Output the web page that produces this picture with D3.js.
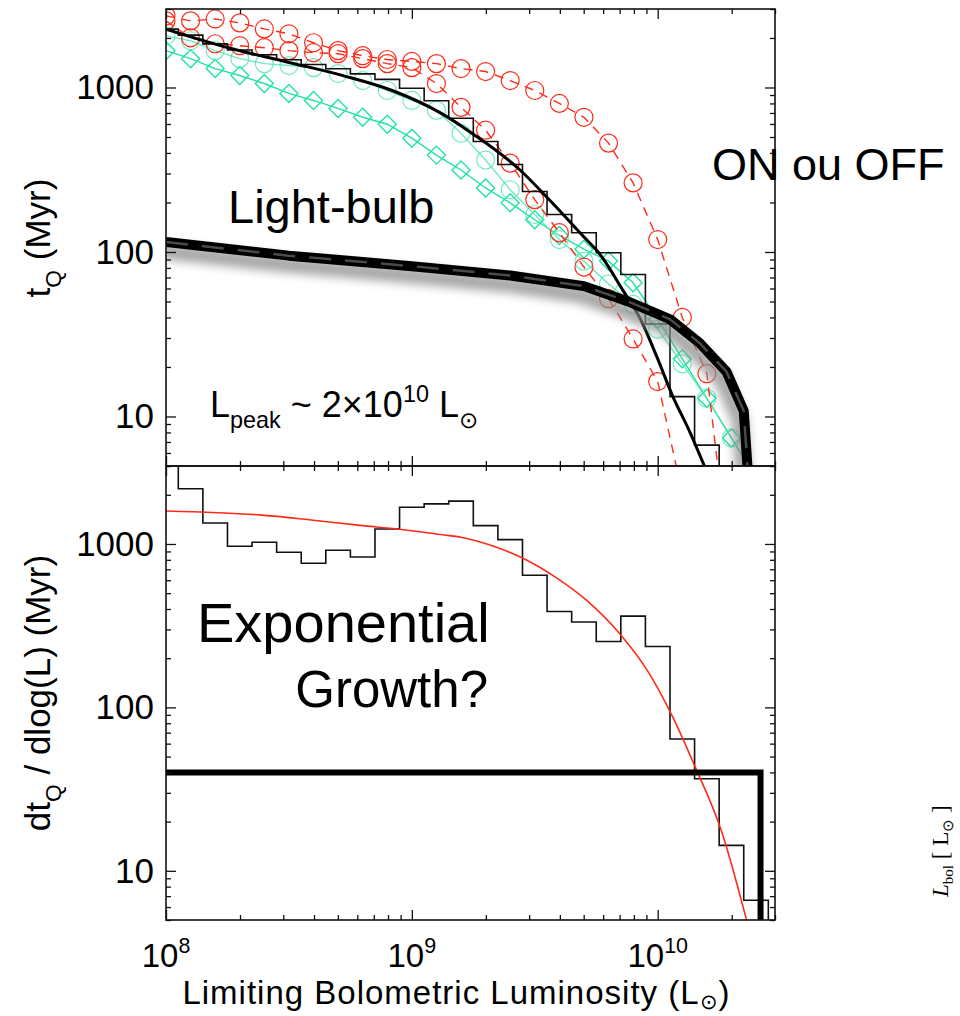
<!DOCTYPE html>
<html>
<head>
<meta charset="utf-8">
<script src="https://cdn.jsdelivr.net/npm/d3@7"></script>
<style>
  body { margin: 0; background: #fff; }
  text { font-family: "Liberation Sans", Arial, Helvetica, sans-serif; fill: #000; }
</style>
</head>
<body>
<script>
// log10 of luminosity at the bin centres / marker positions
var logGrid = [8.0, 8.1, 8.2, 8.3, 8.4, 8.5, 8.6, 8.7, 8.8, 8.9, 9.0, 9.1, 9.2,
               9.3, 9.4, 9.5, 9.6, 9.7, 9.8, 9.9, 10.0, 10.1, 10.2, 10.3, 10.4, 10.5];

// top panel: t_Q (Myr)
var histTop = [2265, 2080, 1840, 1690, 1580, 1475, 1380, 1300, 1210, 1120, 990, 830, 650,
               470, 340, 233, 169, 131, 99, 73, 36.5, 13.2, 6.7, 2.1];
var redA = [2725, 2540, 2610, 2470, 2270, 2120, 1870, 1675, 1560, 1480, 1440, 1397, 1303,
            1250, 1102, 959, 800, 659, 459, 263, 119, 40, 18.2, 1.0];
var redB = [2540, 2005, 1844, 1795, 1745, 1675, 1627, 1605, 1497, 1397, 1321, 1057, 757,
            550, 347, 208, 131, 81, 52, 29.6, 16.3, 3.4];
var greenCirc = [2061, 1923, 1675, 1497, 1397, 1359, 1321, 1215, 1102, 959, 834, 726, 527,
                 362, 239, 169, 119, 88, 64, 48, 34, 20.9, 12.9, 7.4, 4.2];
var greenDiam = [1675, 1497, 1303, 1182, 1057, 920, 834, 746, 659, 598, 492, 388, 315,
                 245, 199, 157, 126, 104, 88, 65, 39, 22.4, 12.9, 7.4, 4.2];
var fitLog = [8.0, 8.25, 8.5, 8.72, 8.92, 9.12, 9.25, 9.44, 9.56, 9.71, 9.76, 9.86, 9.93, 10.0, 10.06, 10.13, 10.19];
var fitT   = [2265, 1750, 1420, 1181, 959, 696, 520, 315, 207, 119, 99, 58, 39, 22.4, 13.4, 8.1, 5];
var bulbLog = [8.0, 8.5, 9.0, 9.4, 9.7, 9.88, 10.05, 10.17, 10.28, 10.35, 10.365];
var bulbT   = [115, 95, 82, 72, 62, 50, 39, 28, 18.7, 10.8, 5];

// bottom panel: dt_Q / dlog(L) (Myr)
var histBot = [3500, 2175, 1345, 968, 1024, 889, 762, 915, 832, 1236, 1678, 1760, 1828,
               1295, 1063, 643, 386, 333, 253, 362, 236, 64, 36.6, 14.3, 6.6, 0];
var expLog = [8.0, 8.38, 8.59, 8.79, 8.95, 9.13, 9.2, 9.33, 9.45, 9.59, 9.71, 9.85, 9.96, 10.06, 10.15, 10.26, 10.36, 10.4];
var expT   = [1593, 1506, 1403, 1300, 1230, 1135, 1100, 972, 820, 618, 453, 277, 166, 88, 44, 17.4, 5.1, 3];
var bulbLevel = 40, bulbLmax = 2.62e10;

var W = 960, H = 1016,
    left = 166, right = 775, top1 = 9, mid = 466, bot = 920,
    red = '#ff2a18', green = '#22e3a0', greenLight = '#4ee6b0';

var svg = d3.select('body').append('svg').attr('width', W).attr('height', H);
var defs = svg.append('defs');
defs.append('clipPath').attr('id', 'clipTop').append('rect')
  .attr('x', left).attr('y', top1).attr('width', right - left).attr('height', mid - top1);
defs.append('clipPath').attr('id', 'clipBot').append('rect')
  .attr('x', left).attr('y', mid).attr('width', right - left).attr('height', bot - mid);
defs.append('filter').attr('id', 'shadow').attr('x', '-10%').attr('y', '-50%')
  .attr('width', '120%').attr('height', '200%')
  .append('feGaussianBlur').attr('stdDeviation', 5);

var x = d3.scaleLog().domain([1e8, 3e10]).range([left, right]);
var yTop = d3.scaleLog().domain([5, 3000]).range([mid, top1]);
var yBot = d3.scaleLog().domain([5, 3000]).range([bot, mid]);

function pow(v) { return Math.pow(10, v); }

function stepPoints(vals) {
  var pts = vals.map(function(v, i) { return [pow(logGrid[i] - 0.05), v]; });
  pts.push([pow(logGrid[vals.length - 1] + 0.05), vals[vals.length - 1]]);
  return pts;
}

function drawSeries(g, y, vals, color, dash, marker, op) {
  var pts = vals.map(function(v, i) { return [pow(logGrid[i]), v]; });
  var line = d3.line().x(function(d) { return x(d[0]); }).y(function(d) { return y(Math.max(d[1], 0.5)); });
  g.append('path').attr('d', line(pts)).attr('fill', 'none')
    .attr('stroke', color).attr('stroke-width', 1.4).attr('stroke-dasharray', dash)
    .attr('opacity', op);
  var m = g.append('g').attr('opacity', op);
  pts.forEach(function(d) {
    var cx = x(d[0]), cy = y(Math.max(d[1], 0.5));
    if (marker === 'circle') {
      m.append('circle').attr('cx', cx).attr('cy', cy).attr('r', 9)
        .attr('fill', 'none').attr('stroke', color).attr('stroke-width', 1.2);
    } else {
      m.append('path').attr('d', 'M' + cx + ',' + (cy - 9) + 'L' + (cx + 9) + ',' + cy + 'L' + cx + ',' + (cy + 9) + 'L' + (cx - 9) + ',' + cy + 'Z')
        .attr('fill', 'none').attr('stroke', color).attr('stroke-width', 1.4);
    }
  });
}

// ---------- top panel ----------
var gT = svg.append('g').attr('clip-path', 'url(#clipTop)');
drawSeries(gT, yTop, greenDiam, green, null, 'diamond', 1);
drawSeries(gT, yTop, greenCirc, greenLight, null, 'circle', 0.8);
drawSeries(gT, yTop, redB, red, '9,7', 'circle', 1);
drawSeries(gT, yTop, redA, red, '9,7', 'circle', 1);

var stepLineT = d3.line().curve(d3.curveStepAfter)
  .x(function(d) { return x(d[0]); }).y(function(d) { return yTop(Math.max(d[1], 0.5)); });
gT.append('path').attr('d', stepLineT(stepPoints(histTop)))
  .attr('fill', 'none').attr('stroke', '#111').attr('stroke-width', 1.6);

var fitLine = d3.line().curve(d3.curveMonotoneX)
  .x(function(d, i) { return x(pow(fitLog[i])); }).y(function(d) { return yTop(d); });
gT.append('path').attr('d', fitLine(fitT))
  .attr('fill', 'none').attr('stroke', '#000').attr('stroke-width', 3);

var bulbLine = d3.line()
  .x(function(d, i) { return x(pow(bulbLog[i])); }).y(function(d) { return yTop(d); });
gT.append('path').attr('d', bulbLine(bulbT)).attr('transform', 'translate(-4,9)')
  .attr('fill', 'none').attr('stroke', '#8a8a8a').attr('stroke-width', 16)
  .attr('opacity', 0.75).attr('filter', 'url(#shadow)');
gT.append('path').attr('d', bulbLine(bulbT))
  .attr('fill', 'none').attr('stroke', '#000').attr('stroke-width', 10)
  .attr('stroke-linejoin', 'round').attr('stroke-linecap', 'round');
gT.append('path').attr('d', bulbLine(bulbT))
  .attr('fill', 'none').attr('stroke', '#4a4a4a').attr('stroke-width', 2.5)
  .attr('stroke-dasharray', '22,14');

// ---------- bottom panel ----------
var gB = svg.append('g').attr('clip-path', 'url(#clipBot)');
var stepLineB = d3.line().curve(d3.curveStepAfter)
  .x(function(d) { return x(d[0]); }).y(function(d) { return yBot(Math.max(d[1], 0.5)); });
gB.append('path').attr('d', stepLineB(stepPoints(histBot)))
  .attr('fill', 'none').attr('stroke', '#111').attr('stroke-width', 1.6);
var expLine = d3.line().curve(d3.curveMonotoneX)
  .x(function(d, i) { return x(pow(expLog[i])); }).y(function(d) { return yBot(d); });
gB.append('path').attr('d', expLine(expT))
  .attr('fill', 'none').attr('stroke', red).attr('stroke-width', 1.6);
gB.append('path').attr('d', stepLineB([[1e8, bulbLevel], [bulbLmax, bulbLevel], [bulbLmax, 0.5]]))
  .attr('fill', 'none').attr('stroke', '#000').attr('stroke-width', 6);

// ---------- axes ----------
var xMajor = [1e8, 1e9, 1e10], yMajor = [10, 100, 1000];
var xMinor = x.ticks().filter(function(d) { return xMajor.indexOf(d) < 0; });
var yMinor = yTop.ticks().filter(function(d) { return yMajor.indexOf(d) < 0; });

function axes(y, y0, y1, labels) {
  var specs = [
    [d3.axisLeft(y), 'translate(' + left + ',0)', yMajor, yMinor, labels],
    [d3.axisRight(y), 'translate(' + right + ',0)', yMajor, yMinor, false],
    [d3.axisTop(x), 'translate(0,' + y1 + ')', xMajor, xMinor, false],
    [d3.axisBottom(x), 'translate(0,' + y0 + ')', xMajor, xMinor, false]
  ];
  specs.forEach(function(s) {
    var gm = svg.append('g').attr('transform', s[1])
      .call(s[0].tickValues(s[2]).tickSize(-10).tickPadding(12)
        .tickFormat(s[4] ? d3.format('d') : ''));
    var gn = svg.append('g').attr('transform', s[1])
      .call(s[0].tickValues(s[3]).tickSize(-5).tickFormat(''));
    [gm, gn].forEach(function(g) {
      g.select('.domain').remove();
      g.selectAll('line').attr('stroke', '#111').attr('stroke-width', 1.3);
    });
    gm.selectAll('text').attr('font-size', 35)
      .attr('font-family', '"Liberation Sans", Arial, sans-serif').attr('fill', '#000');
  });
  svg.append('rect').attr('x', left).attr('y', y1).attr('width', right - left)
    .attr('height', y0 - y1).attr('fill', 'none').attr('stroke', '#111').attr('stroke-width', 1.6);
}
axes(yTop, mid, top1, true);
axes(yBot, bot, mid, true);

// rich text helper for sub/superscripts
function rich(sel, parts, size, subOff) {
  var off = 0;
  parts.forEach(function(p) {
    var target = p[1] === 'sub' ? size * (subOff || 0.3) : p[1] === 'sup' ? -size * 0.42 : 0;
    sel.append('tspan').attr('dy', target - off)
      .attr('font-size', p[1] ? size * 0.65 : size).text(p[0]);
    off = target;
  });
  return sel;
}

// x tick labels
xMajor.forEach(function(v, i) {
  var t = svg.append('text').attr('x', x(v)).attr('y', 967).attr('text-anchor', 'middle');
  rich(t, [['10'], [['8', '9', '10'][i], 'sup']], 33);
});

rich(svg.append('text').attr('x', (left + right) / 2 - 14).attr('y', 1004)
    .attr('text-anchor', 'middle').attr('letter-spacing', 1),
  [['Limiting Bolometric Luminosity (L'], ['\u2299', 'sub'], [')']], 33, 0.16);

rich(svg.append('text').attr('transform', 'translate(50,238) rotate(-90)').attr('text-anchor', 'middle'),
  [['t'], ['Q', 'sub'], [' (Myr)']], 35);
rich(svg.append('text').attr('transform', 'translate(50,693) rotate(-90)').attr('text-anchor', 'middle'),
  [['dt'], ['Q', 'sub'], [' / dlog(L) (Myr)']], 35);

// annotations
svg.append('text').attr('x', 228).attr('y', 223).attr('font-size', 47).text('Light-bulb');
svg.append('text').attr('x', 712).attr('y', 180).attr('font-size', 45).text('ON ou OFF');
rich(svg.append('text').attr('x', 210).attr('y', 417),
  [['L'], ['peak', 'sub'], [' ~ 2\u00d710'], ['10', 'sup'], [' L'], ['\u2299', 'sub']], 36);
svg.append('text').attr('x', 197).attr('y', 642).attr('font-size', 56).text('Exponential');
svg.append('text').attr('x', 488).attr('y', 707).attr('font-size', 51)
  .attr('text-anchor', 'end').text('Growth?');

var lb = svg.append('text').attr('transform', 'translate(948,897) rotate(-90)')
  .style('font-family', '"Liberation Serif", "Times New Roman", serif').attr('font-size', 23);
lb.append('tspan').attr('font-style', 'italic').text('L');
lb.append('tspan').attr('font-size', 15).attr('dy', 5).text('bol');
lb.append('tspan').attr('dy', -5).text(' [ L');
lb.append('tspan').attr('font-size', 15).attr('dy', 5).text('\u2299');
lb.append('tspan').attr('dy', -5).text(' ]');
</script>
</body>
</html>
